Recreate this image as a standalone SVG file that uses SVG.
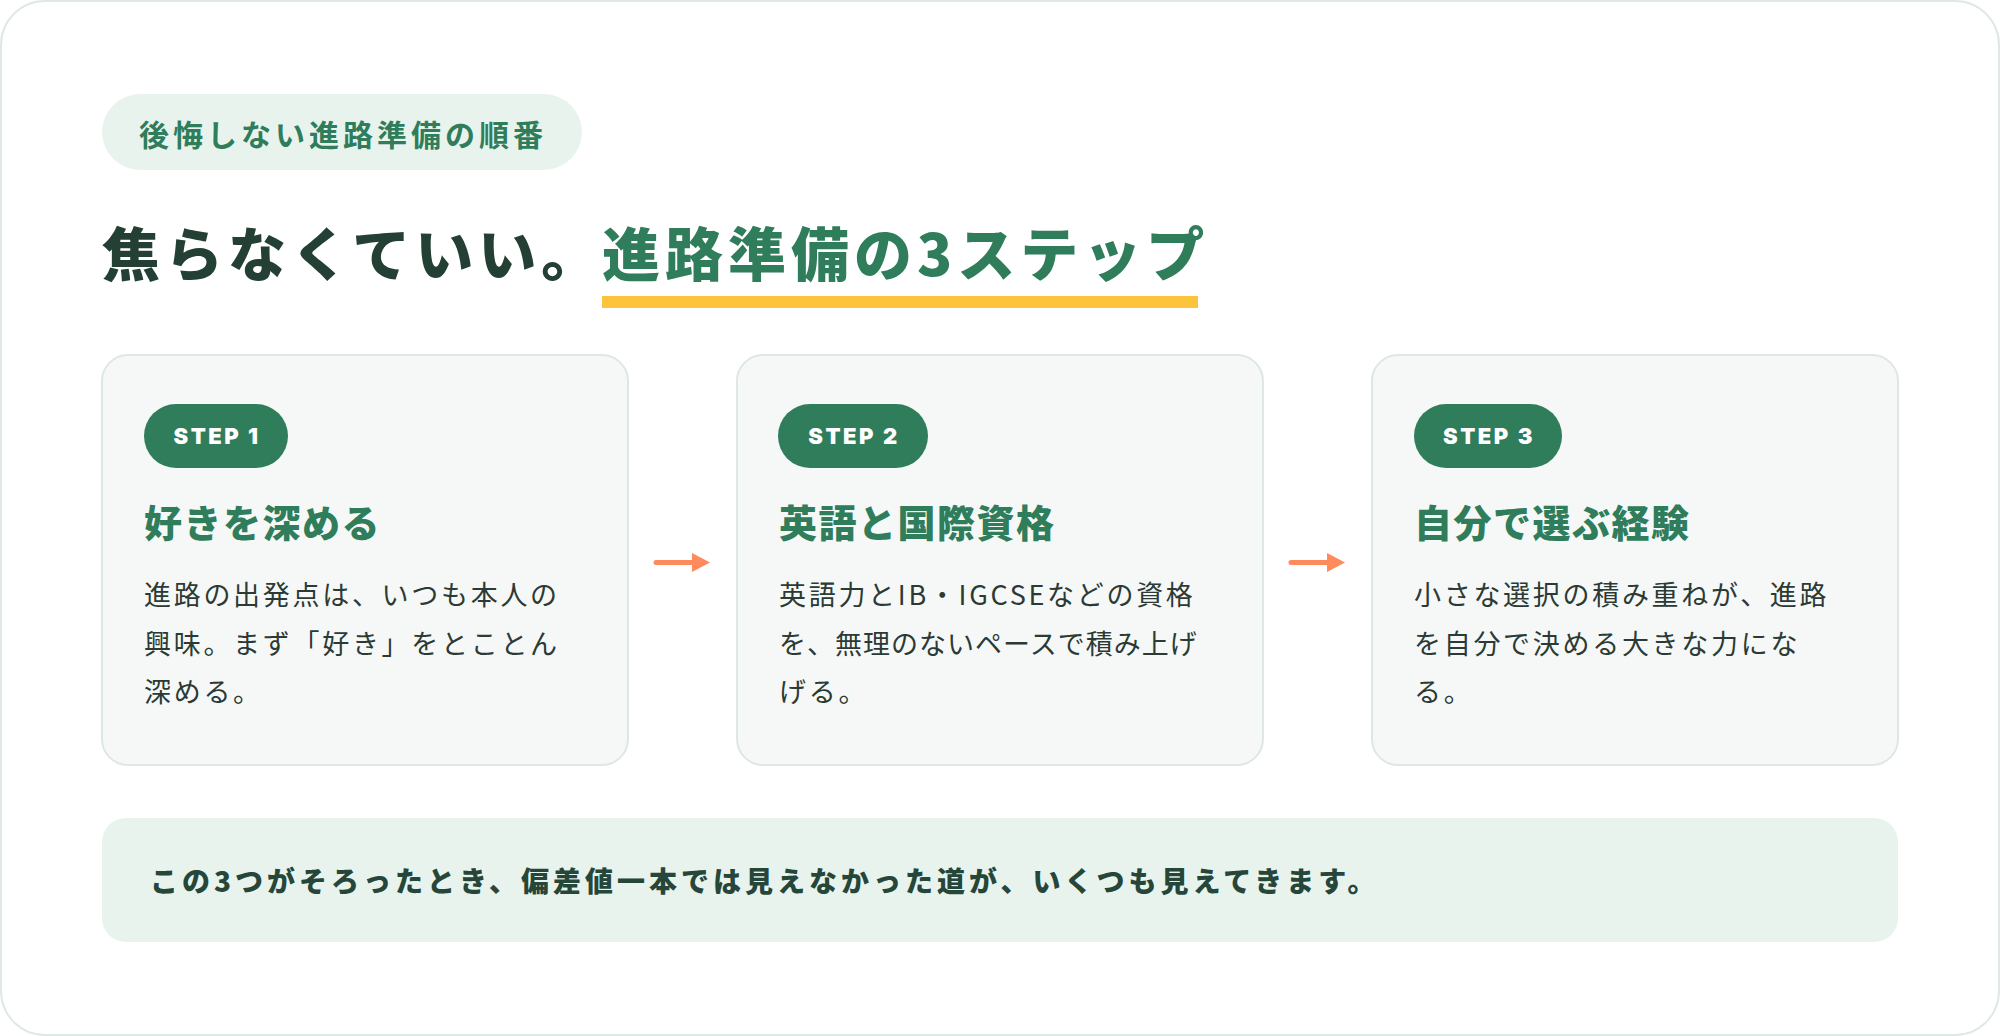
<svg xmlns="http://www.w3.org/2000/svg" width="2000" height="1036" viewBox="0 0 2000 1036">
  <defs>
    <style>
      .jp { font-family: "Noto Sans CJK JP", "Noto Sans", sans-serif; }
      .tag { font-size: 30px; font-weight: 700; fill: #2f7d5b; letter-spacing: 4px; }
      .h1 { font-size: 58px; font-weight: 900; letter-spacing: 5px; }
      .dark { fill: #243f33; }
      .green { fill: #2f7d5b; }
      .card { fill: #f6f8f7; stroke: #dde7e4; stroke-width: 2; }
      .badge { fill: #2f7d5b; }
      .badge-t { font-family: "Inter", "Noto Sans", sans-serif; font-size: 22px; font-weight: 900; fill: #ffffff; letter-spacing: 2.5px; }
      .ct { font-size: 38px; font-weight: 900; fill: #2f7d5b; letter-spacing: 1.5px; }
      .body { font-size: 27px; font-weight: 400; fill: #2b3a35; letter-spacing: 2.7px; }
      .tight { letter-spacing: 1px; }
      .note { font-size: 28px; font-weight: 900; fill: #26463a; letter-spacing: 4px; }
      .conn { fill: none; stroke: #ff8a5c; stroke-width: 5; stroke-linecap: round; }
    </style>
    <marker id="head" viewBox="0 0 18 19" refX="1" refY="9.5" markerWidth="18" markerHeight="19" markerUnits="userSpaceOnUse" orient="auto">
      <path d="M0,0 L18,9.5 L0,19 Z" fill="#ff8a5c"/>
    </marker>
  </defs>

  <rect id="frame" x="1" y="1" width="1998" height="1034" rx="44" ry="44" fill="#ffffff" stroke="#dfe8e5" stroke-width="2"/>

  <g id="header-tag">
    <rect x="102" y="94" width="480" height="76" rx="38" ry="38" fill="#e8f3ee"/>
    <text class="jp tag" x="139" y="146">後悔しない進路準備の順番</text>
  </g>

  <g id="title">
    <text class="jp h1 dark" x="102" y="276">焦らなくていい。</text>
    <text class="jp h1 green" x="602" y="276">進路準備の3ステップ</text>
    <rect x="602" y="296" width="596" height="12" fill="#fcc33c"/>
  </g>

  <g id="step1">
    <rect class="card" x="102" y="355" width="526" height="410" rx="26" ry="26"/>
    <rect class="badge" x="144" y="404" width="144" height="64" rx="32" ry="32"/>
    <text class="badge-t" x="217" y="444" text-anchor="middle">STEP 1</text>
    <text class="jp ct" x="144" y="537">好きを深める</text>
    <text class="jp body" x="144" y="605">進路の出発点は、いつも本人の</text>
    <text class="jp body" x="144" y="653.5">興味。まず「好き」をとことん</text>
    <text class="jp body" x="144" y="702">深める。</text>
  </g>

  <g id="step2">
    <rect class="card" x="737" y="355" width="526" height="410" rx="26" ry="26"/>
    <rect class="badge" x="778" y="404" width="150" height="64" rx="32" ry="32"/>
    <text class="badge-t" x="854" y="444" text-anchor="middle">STEP 2</text>
    <text class="jp ct" x="779" y="537">英語と国際資格</text>
    <text class="jp body" x="779" y="605">英語力とIB・IGCSEなどの資格</text>
    <text class="jp body tight" x="779" y="653.5">を、無理のないペースで積み上げ</text>
    <text class="jp body" x="779" y="702">げる。</text>
  </g>

  <g id="step3">
    <rect class="card" x="1372" y="355" width="526" height="410" rx="26" ry="26"/>
    <rect class="badge" x="1414" y="404" width="148" height="64" rx="32" ry="32"/>
    <text class="badge-t" x="1489" y="444" text-anchor="middle">STEP 3</text>
    <text class="jp ct" x="1414" y="537">自分で選ぶ経験</text>
    <text class="jp body" x="1414" y="605">小さな選択の積み重ねが、進路</text>
    <text class="jp body" x="1414" y="653.5">を自分で決める大きな力にな</text>
    <text class="jp body" x="1414" y="702">る。</text>
  </g>

  <g id="connectors">
    <path class="conn" d="M656,562.5 H693" marker-end="url(#head)"/>
    <path class="conn" d="M1291,562.5 H1328" marker-end="url(#head)"/>
  </g>

  <g id="summary">
    <rect x="102" y="818" width="1796" height="124" rx="24" ry="24" fill="#e8f3ee"/>
    <text class="jp note" x="150" y="892">この3つがそろったとき、偏差値一本では見えなかった道が、いくつも見えてきます。</text>
  </g>
</svg>
